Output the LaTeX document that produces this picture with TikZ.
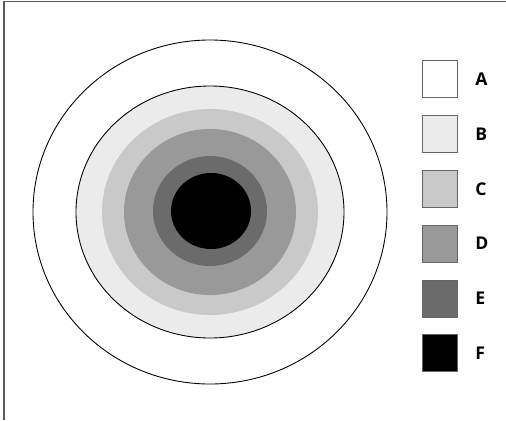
\documentclass[tikz,border=0pt]{standalone}
\usepackage{fontspec}
\setsansfont{Open Sans}
\usetikzlibrary{positioning}

\definecolor{tonoA}{gray}{1.00}
\definecolor{tonoB}{gray}{0.92}
\definecolor{tonoC}{gray}{0.79}
\definecolor{tonoD}{gray}{0.60}
\definecolor{tonoE}{gray}{0.42}
\definecolor{tonoF}{gray}{0.00}

\tikzset{
  legbox/.style={draw=black!60, line width=0.5pt, minimum width=0.7cm,
    minimum height=0.74cm, inner sep=0pt},
  leglabel/.style={font=\sffamily\bfseries\fontsize{10}{12}\selectfont, inner sep=0pt}
}

\begin{document}
\begin{tikzpicture}[x=0.02cm, y=-0.02cm]

  \useasboundingbox (0,0) rectangle (506,420);
  \fill[white] (0,0) rectangle (506,420);

  % --- cornice (solo lati alto e sinistro) ---
  \draw[black!65, line width=0.6pt] (4,420) -- (4,1.5) -- (506,1.5);

  % --- anelli concentrici ---
  \draw[line width=0.5pt, fill=tonoA] (210,212) ellipse (177 and 172);
  \draw[line width=0.5pt, fill=tonoB] (210,212) ellipse (134 and 126);
  \fill[tonoC] (210,212) ellipse (108 and 103);
  \fill[tonoD] (210,212) ellipse (86 and 83);
  \fill[tonoE] (210,211) ellipse (57 and 55);
  \fill[tonoF] (211,211) ellipse (40 and 38);

  % --- legenda ---
  \node[legbox, fill=tonoA] (boxA) at (440,79) {};
  \node[legbox, fill=tonoB, below=0.34cm of boxA] (boxB) {};
  \node[legbox, fill=tonoC, below=0.34cm of boxB] (boxC) {};
  \node[legbox, fill=tonoD, below=0.34cm of boxC] (boxD) {};
  \node[legbox, fill=tonoE, below=0.34cm of boxD] (boxE) {};
  \node[legbox, fill=tonoF, below=0.34cm of boxE] (boxF) {};

  \node[leglabel, right=0.34cm of boxA] (labA) {A};
  \node[leglabel, right=0.34cm of boxB] (labB) {B};
  \node[leglabel, right=0.34cm of boxC] (labC) {C};
  \node[leglabel, right=0.34cm of boxD] (labD) {D};
  \node[leglabel, right=0.34cm of boxE] (labE) {E};
  \node[leglabel, right=0.34cm of boxF] (labF) {F};

\end{tikzpicture}
\end{document}
